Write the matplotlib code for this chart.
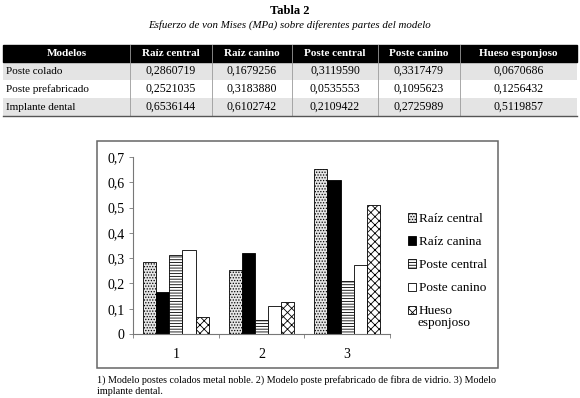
"""Tabla 2 y grafico de barras del esfuerzo de von Mises."""
import numpy as np
import matplotlib
matplotlib.use("Agg")
import matplotlib.pyplot as plt
from matplotlib.patches import Rectangle

plt.rcParams['font.family'] = ['Liberation Serif', 'DejaVu Serif']
plt.rcParams['hatch.linewidth'] = 0.6

# --- data ---
modelos = ["Poste colado", "Poste prefabricado", "Implante dental"]
partes = ["Raíz central", "Raíz canino", "Poste central", "Poste canino", "Hueso esponjoso"]
poste_colado = [0.2860719, 0.1679256, 0.3119590, 0.3317479, 0.0670686]
poste_prefabricado = [0.2521035, 0.3183880, 0.0535553, 0.1095623, 0.1256432]
implante_dental = [0.6536144, 0.6102742, 0.2109422, 0.2725989, 0.5119857]
legend_labels = ["Raíz central", "Raíz canina", "Poste central", "Poste canino", "Hueso"]
legend_extra = "esponjoso"
group_labels = ["1", "2", "3"]
y_ticks = [0, 0.1, 0.2, 0.3, 0.4, 0.5, 0.6, 0.7]
caption = ["1) Modelo postes colados metal noble. 2) Modelo poste prefabricado de fibra de vidrio. 3) Modelo",
           "implante dental."]

W, H = 580, 398
fig = plt.figure(figsize=(W / 100, H / 100), dpi=100)

# overlay axes in pixel units for the table, box and caption
pax = fig.add_axes([0, 0, 1, 1])
pax.set_xlim(0, W)
pax.set_ylim(H, 0)
pax.axis('off')

pax.text(290, 11, "Tabla 2", ha='center', va='center', fontsize=9, fontweight='bold')
pax.text(290, 25.5, "Esfuerzo de von Mises (MPa) sobre diferentes partes del modelo",
         ha='center', va='center', fontsize=7.8, style='italic')

col_edges = [3, 130, 212, 292, 378, 460, 577]
row_edges = [45, 62, 80, 98, 116]
header = ["Modelos"] + partes
rows = [poste_colado, poste_prefabricado, implante_dental]

# header row
pax.add_patch(Rectangle((col_edges[0], row_edges[0]), col_edges[-1] - col_edges[0],
                        row_edges[1] - row_edges[0], facecolor='black', edgecolor='black'))
for j, h in enumerate(header):
    xc = (col_edges[j] + col_edges[j + 1]) / 2
    pax.text(xc, (row_edges[0] + row_edges[1]) / 2 + 0.5, h, ha='center', va='center',
             color='white', fontsize=8, fontweight='bold')
    if j > 0:
        pax.plot([col_edges[j]] * 2, [row_edges[0], row_edges[-1]], color='#9a9a9a', lw=0.6)

for i, (name, vals) in enumerate(zip(modelos, rows)):
    y0, y1 = row_edges[i + 1], row_edges[i + 2]
    if i % 2 == 0:
        pax.add_patch(Rectangle((col_edges[0], y0), col_edges[-1] - col_edges[0], y1 - y0,
                                facecolor='#e4e4e4', edgecolor='none', zorder=0))
    pax.text(col_edges[0] + 3, (y0 + y1) / 2, name, ha='left', va='center', fontsize=8)
    for j, v in enumerate(vals):
        xc = (col_edges[j + 1] + col_edges[j + 2]) / 2
        pax.text(xc, (y0 + y1) / 2, f"{v:.7f}".replace('.', ','), ha='center', va='center',
                 fontsize=8.5)
pax.plot([col_edges[0], col_edges[-1]], [row_edges[-1], row_edges[-1]], color='#555555', lw=1.0)

# chart frame
pax.add_patch(Rectangle((97, 141), 401, 227, facecolor='none', edgecolor='#666666', lw=1.1))

for k, line in enumerate(caption):
    pax.text(97, 380 + 11 * k, line, ha='left', va='center', fontsize=7.25)

# --- bar chart ---
ax = fig.add_axes([133 / W, 1 - 334 / H, 257 / W, (334 - 157) / H])
series = np.array(rows)  # groups x parts
x = np.arange(1, len(group_labels) + 1)
width = 0.154
styles = [
    dict(facecolor='#e6e6e6', hatch='......', edgecolor='black'),
    dict(facecolor='black', edgecolor='black'),
    dict(facecolor='white', hatch='------', edgecolor='black'),
    dict(facecolor='white', edgecolor='black'),
    dict(facecolor='white', hatch='xxxx', edgecolor='black'),
]
handles = []
for k in range(series.shape[1]):
    offs = (k - 2) * width
    b = ax.bar(x + offs, series[:, k], width, linewidth=0.6, label=legend_labels[k], **styles[k])
    handles.append(b)

ax.set_xlim(0.5, 3.5)
ax.set_ylim(0, 0.7)
ax.set_yticks(y_ticks)
ax.set_yticklabels([f"{t:g}".replace('.', ',') for t in y_ticks], fontsize=10)
ax.set_xticks(x)
ax.set_xticklabels(group_labels, fontsize=10)
ax.tick_params(axis='x', length=0, pad=10)
ax.set_xticks([0.5, 1.5, 2.5, 3.5], minor=True)
ax.tick_params(axis='x', which='minor', length=3, width=0.6, color='#777777')
ax.tick_params(axis='y', length=3, width=0.6, color='#777777', pad=3)
for s in ['top', 'right']:
    ax.spines[s].set_visible(False)
for s in ['left', 'bottom']:
    ax.spines[s].set_color('#777777')
    ax.spines[s].set_linewidth(0.8)

fig.legend(handles=handles, loc='upper left', bbox_to_anchor=(401 / W, 1 - 206.5 / H),
           frameon=False, fontsize=9.5, handlelength=0.6, handleheight=0.6,
           handletextpad=0.25, labelspacing=0.84, borderpad=0)
pax.text(418, 323, legend_extra, ha='left', va='center', fontsize=9.5)

fig.savefig("out.png", dpi=100)
